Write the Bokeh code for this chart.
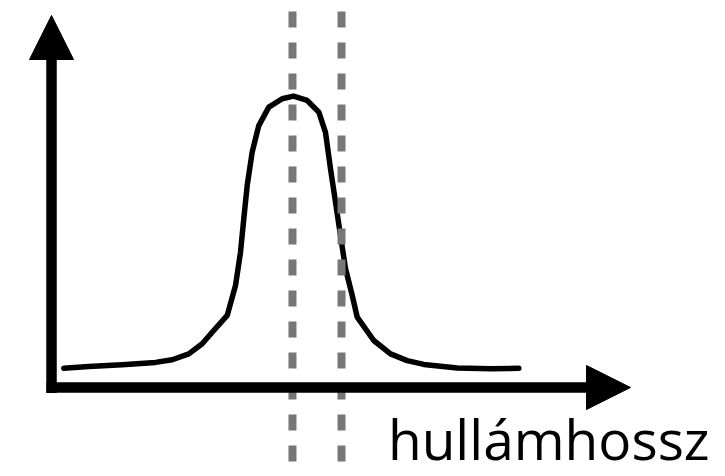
from bokeh.plotting import figure
from bokeh.models import Arrow, NormalHead, Range1d
from bokeh.core.properties import value
from bokeh.embed import file_html
from bokeh.resources import INLINE

# spectrum curve (arbitrary wavelength units, relative intensity)
wavelength = [2.12, 6.44, 12.21, 17.96, 20.85, 23.71, 26.03, 27.75, 30.35, 31.78,
              32.64, 33.21, 33.80, 34.66, 35.80, 37.53, 39.84, 41.80, 44.16, 46.17,
              47.32, 48.19, 49.05, 49.91, 50.78, 51.94, 52.80, 55.66, 58.55, 61.43,
              64.30, 70.07, 75.82, 80.71]
intensity = [0.066, 0.072, 0.078, 0.086, 0.095, 0.115, 0.150, 0.189, 0.247, 0.349,
             0.463, 0.578, 0.692, 0.806, 0.897, 0.960, 0.989, 0.998, 0.983, 0.943,
             0.874, 0.749, 0.635, 0.521, 0.407, 0.315, 0.241, 0.161, 0.115, 0.092,
             0.079, 0.067, 0.064, 0.066]

# two marked wavelengths (dashed lines)
marks = [41.62, 50.09]

axis_label = "hullámhossz"

X0, X1 = -8.81, 116.41
Y0, Y1 = -0.3048, 1.3253

p = figure(width=725, height=476, output_backend="svg", toolbar_location=None,
           x_range=Range1d(X0, X1), y_range=Range1d(Y0, Y1), min_border=0)
p.axis.visible = False
p.grid.visible = False
p.outline_line_color = None
p.background_fill_color = "white"
p.border_fill_color = "white"

# axes arrows
p.add_layout(Arrow(x_start=-0.86, y_start=0.0, x_end=100.0, y_end=0.0,
                   line_width=10.5, line_color="black", line_cap="butt",
                   end=NormalHead(size=44, fill_color="black", line_color="black", line_width=1)))
p.add_layout(Arrow(x_start=0.0, y_start=-0.019, x_end=0.0, y_end=1.274,
                   line_width=10.5, line_color="black", line_cap="butt",
                   end=NormalHead(size=44, fill_color="black", line_color="black", line_width=1)))

# curve
p.line(wavelength, intensity, line_width=5.5, line_color="black", line_join="round", line_cap="round")

# dashed markers
p.segment(x0=marks, y0=[Y1] * len(marks), x1=marks, y1=[Y0] * len(marks),
          line_color="#777777", line_width=8, line_dash="16 15", line_dash_offset=20)

# axis label
p.text(x=[58.1], y=[-0.175], text=[axis_label], text_font=value("Open Sans"),
       text_font_size="55px", text_color="black", text_baseline="alphabetic", text_align="left")

open("out.html", "w").write(file_html(p, INLINE))
